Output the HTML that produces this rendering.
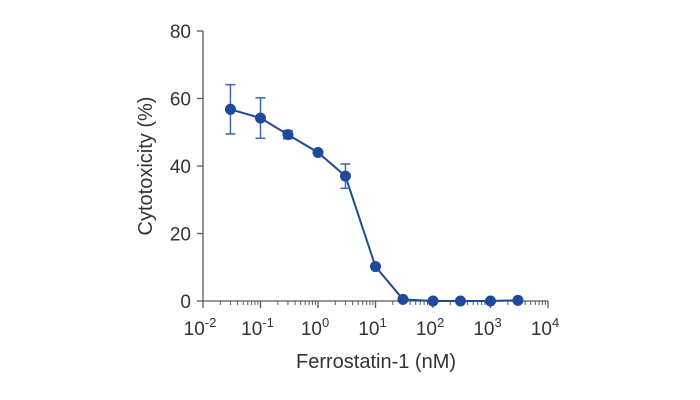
<!DOCTYPE html>
<html><head><meta charset="utf-8"><style>
body{margin:0;background:#fff}
svg{display:block;font-family:"Liberation Sans",sans-serif}
</style></head><body>
<svg id="c" width="700" height="400"></svg>
<script>
const concentrations=[0.03,0.1,0.3,1,3,10,30,100,300,1000,3000];
const cytotoxicity=[56.8,54.2,49.3,44,37,10.2,0.5,0,0,0,0.2];
const errors=[7.3,6,1.2,0,3.6,0,0,0,0,0,0];
const yTicks=[0,20,40,60,80];
const xExponents=[-2,-1,0,1,2,3,4];
const NS="http://www.w3.org/2000/svg";
const svg=document.getElementById('c');
const X0=203,X1=548,Y0=301,Y1=31;
const xs=v=>X0+(Math.log10(v)+2)/6*(X1-X0);
const ys=v=>Y0-v/80*(Y0-Y1);
function mk(t,a,p){const e=document.createElementNS(NS,t);for(const k in a)e.setAttribute(k,a[k]);(p||svg).appendChild(e);return e;}
const axis='#5a5a5a',col='#1f4a9b';
let e=mk('line',{x1:X0,y1:Y1,x2:X0,y2:Y0,stroke:axis,'stroke-width':1.3});

e=mk('line',{x1:X0,y1:Y0,x2:X1,y2:Y0,stroke:axis,'stroke-width':1.3});

yTicks.forEach(v=>{
 mk('line',{x1:X0-6,y1:ys(v),x2:X0,y2:ys(v),stroke:axis,'stroke-width':1.3});
 const t=mk('text',{x:X0-12,y:ys(v)+7,'text-anchor':'end','font-size':19,fill:'#333'});t.textContent=v;
 
});
xExponents.forEach((p,i)=>{
 const x=xs(Math.pow(10,p));
 mk('line',{x1:x,y1:Y0,x2:x,y2:Y0+7,stroke:axis,'stroke-width':1.3});
 if(i<xExponents.length-1)for(let m=2;m<10;m++){const xm=xs(m*Math.pow(10,p));mk('line',{x1:xm,y1:Y0,x2:xm,y2:Y0+4,stroke:axis,'stroke-width':1});}
 const t=mk('text',{x:x-3,y:Y0+34,'text-anchor':'middle','font-size':19,fill:'#333'});
 
 t.textContent='10';const s=mk('tspan',{dy:-8,'font-size':13},t);s.textContent=String(p).replace('-','-');
});
let t=mk('text',{x:376,y:368,'text-anchor':'middle','font-size':20,fill:'#333'});t.textContent='Ferrostatin-1 (nM)';

t=mk('text',{x:0,y:0,'text-anchor':'middle','font-size':20,fill:'#333',transform:'translate(152,166) rotate(-90)'});t.textContent='Cytotoxicity (%)';

const pts=concentrations.map((c,i)=>xs(c)+','+ys(cytotoxicity[i])).join(' ');
e=mk('polyline',{points:pts,fill:'none',stroke:col,'stroke-width':2});

concentrations.forEach((c,i)=>{
 const x=xs(c),y=cytotoxicity[i],er=errors[i];
 if(er>0){
  const g=mk('g',{stroke:'#3f67ad','stroke-width':1.5});
  
  mk('line',{x1:x,y1:ys(y+er),x2:x,y2:ys(y-er)},g);
  mk('line',{x1:x-5,y1:ys(y+er),x2:x+5,y2:ys(y+er)},g);
  mk('line',{x1:x-5,y1:ys(y-er),x2:x+5,y2:ys(y-er)},g);
 }
 const p=mk('circle',{cx:x,cy:ys(y),r:5.5,fill:col});
 
});
</script>
</body></html>
